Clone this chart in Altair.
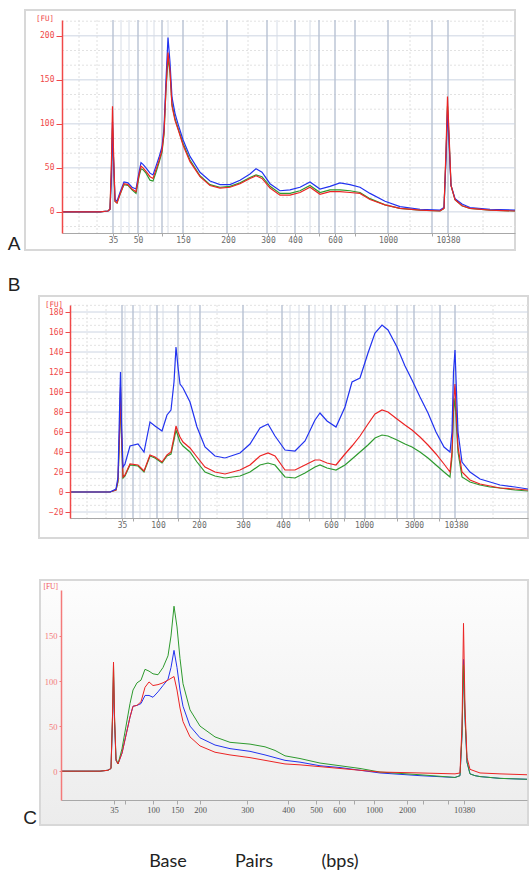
import altair as alt
import pandas as pd
import numpy as np

# ---------------- Panel A (migration position, a.u. from y-axis) ----------------
A_mig = [0, 38, 46, 48, 49.5, 50.5, 51.5, 53, 55, 58, 62, 66, 70, 74, 77, 79, 81, 84, 88, 91,
         94, 97, 100, 102, 104, 106, 108, 110, 113, 116, 121, 128, 138, 148, 158, 168, 178, 188, 194, 200,
         208, 218, 228, 238, 248, 258, 268, 278, 288, 298, 308, 323, 338, 358, 378, 382, 384, 385.5, 387, 389,
         393, 400, 408, 428, 453]
A_blue = [0, 0, 1, 3, 40, 102, 60, 14, 12, 22, 34, 33, 28, 26, 45, 56, 54, 50, 44, 42,
          52, 62, 74, 95, 150, 198, 170, 130, 112, 100, 82, 63, 45, 35, 31, 31, 36, 43, 49, 45,
          32, 24, 25, 28, 34, 26, 29, 33, 31, 28, 21, 12, 6, 3, 2, 5, 60, 116, 80, 30,
          15, 9, 5, 3, 2]
A_red = [0, 0, 1, 3, 60, 120, 70, 12, 10, 20, 32, 31, 26, 23, 42, 52, 50, 46, 40, 38,
         48, 58, 70, 90, 140, 181, 160, 120, 104, 94, 76, 57, 40, 30, 27, 28, 32, 38, 41, 38,
         27, 19, 19, 22, 28, 20, 23, 23, 22, 21, 14, 8, 4, 2, 1, 4, 70, 131, 90, 30,
         14, 7, 4, 2, 1]
A_green = [0, 0, 1, 3, 50, 95, 60, 12, 10, 20, 31, 30, 25, 21, 40, 49, 48, 44, 36, 35,
           45, 56, 68, 88, 140, 175, 158, 122, 106, 95, 78, 59, 41, 31, 28, 29, 33, 39, 42, 40,
           29, 21, 21, 24, 30, 22, 25, 25, 24, 22, 15, 8, 4, 2, 1, 4, 65, 120, 85, 30,
           14, 7, 4, 2, 1]
A_tick_pos = [51, 76, 100, 121, 166, 206, 233, 257, 273, 293, 326, 370, 386]
A_tick_lab = ['35', '50', '', '150', '200', '300', '400', '', '600', '', '1000', '', '10380']
A_yticks = [0, 50, 100, 150, 200]

# ---------------- Panel B ----------------
B_mig = [0, 40, 46, 48, 49.5, 50.5, 51.5, 53, 55, 60, 68, 74, 80, 85, 92, 97, 101, 104, 106, 108,
         110, 113, 120, 127, 135, 145, 155, 170, 180, 190, 198, 205, 215, 225, 235, 245, 250, 257, 266, 275,
         282, 290, 298, 305, 312, 318, 327, 335, 342, 350, 358, 366, 374, 380, 382, 383.5, 385, 386.5, 388, 392,
         400, 410, 420, 430, 445, 458]
B_blue = [0, 0, 3, 15, 80, 120, 70, 25, 28, 46, 48, 40, 70, 66, 61, 77, 82, 110, 145, 125,
          108, 104, 90, 65, 45, 36, 34, 39, 48, 64, 68, 56, 42, 41, 51, 72, 79, 71, 65, 85,
          110, 114, 139, 159, 167, 162, 145, 126, 112, 95, 79, 60, 45, 40, 60, 120, 142, 100, 60, 30,
          20, 13, 10, 7, 5, 3]
B_red = [0, 0, 2, 12, 60, 105, 60, 15, 17, 28, 27, 21, 37, 35, 30, 37, 40, 55, 66, 60,
         55, 50, 44, 35, 25, 20, 18, 22, 27, 36, 39, 36, 22, 22, 27, 32, 32, 29, 27, 38,
         46, 56, 68, 78, 82, 80, 73, 67, 62, 55, 47, 38, 28, 20, 40, 90, 108, 75, 45, 20,
         12, 8, 6, 4, 3, 2]
B_green = [0, 0, 2, 10, 55, 100, 55, 14, 16, 27, 26, 20, 36, 34, 29, 36, 38, 52, 62, 56,
           50, 46, 40, 30, 20, 16, 14, 16, 20, 27, 29, 27, 15, 14, 19, 25, 27, 24, 22, 27,
           33, 40, 47, 54, 57, 56, 52, 48, 45, 40, 34, 27, 20, 15, 35, 80, 94, 65, 40, 15,
           10, 7, 5, 4, 2, 1]
B_tick_pos = [52, 63, 88, 108, 129, 173, 213, 239, 261, 274, 294, 327, 344, 369, 386]
B_tick_lab = ['35', '', '100', '', '200', '300', '400', '', '600', '', '1000', '', '3000', '', '10380']
B_yticks = [-20, 0, 20, 40, 60, 80, 100, 120, 140, 160, 180]

# ---------------- Panel C ----------------
C_mig = [0, 39, 47, 50, 51.5, 52.5, 53.5, 55, 57, 61, 65, 69, 72, 76, 80, 84, 88, 92, 97, 102,
         107, 110, 113, 116, 119, 122, 129, 139, 154, 169, 189, 204, 214, 224, 239, 259, 279, 299, 319, 359,
         394, 399, 401, 402.5, 404, 406, 409, 414, 419, 439, 466]
C_green = [0, 0, 1, 3, 60, 118, 60, 14, 8, 25, 50, 75, 90, 98, 101, 113, 111, 108, 107, 115,
           128, 150, 183, 160, 125, 97, 68, 50, 38, 32, 30, 27, 23, 17, 14, 9, 6, 3, -1, -4,
           -7, -5, 40, 118, 60, 10, -3, -5, -6, -8, -9]
C_blue = [0, 0, 1, 3, 55, 105, 55, 12, 8, 20, 40, 60, 72, 73, 75, 84, 84, 82, 88, 95,
          102, 115, 134, 115, 90, 72, 50, 37, 29, 25, 22, 18, 15, 12, 10, 6, 4, 1, -2, -5,
          -7, -5, 40, 124, 60, 10, -3, -5, -6, -8, -9]
C_red = [0, 0, 1, 3, 62, 121, 62, 12, 8, 20, 40, 60, 72, 73, 77, 93, 99, 95, 96, 98,
         101, 103, 105, 90, 70, 55, 38, 28, 21, 18, 15, 12, 10, 8, 7, 5, 3, 1, -1, -2,
         -3, -2, 50, 164, 70, 15, 2, 0, -2, -3, -4]
C_tick_pos = [53, 64, 92, 116, 139, 186, 227, 255, 278, 293, 313, 346, 362, 387, 403]
C_tick_lab = ['35', '', '100', '150', '200', '300', '400', '500', '600', '', '1000', '2000', '', '', '10380']
C_yticks = [0, 50, 100, 150]

# grid line positions (style)
A_vmajor = [51, 76, 100, 121, 165, 205, 233, 257, 273, 293, 326, 370, 386]
A_vminor = [59, 67, 85, 92, 106, 215, 248]
A_vdash = [17, 35, 141, 186, 348, 421]
B_vmajor = [52, 63, 87, 108, 130, 173, 212, 239, 261, 275, 295, 327, 344, 370, 385]
B_vminor = [55, 70, 80, 93, 120, 220, 229, 245, 253, 268, 305, 315, 337, 362]
B_vdash = [17, 36, 147, 197, 423]

WIDTH = 528
MONO = "DejaVu Sans Mono"


def one(txt=""):
    return pd.DataFrame({"t": [txt]})


def lines_layer(mig, series, colors, xs, ys, xaxis, yaxis, sw):
    rows = []
    for name, vals in series.items():
        for m, v in zip(mig, vals):
            rows.append({"mig": m, "fu": v, "sample": name})
    df = pd.DataFrame(rows)
    return alt.Chart(df).mark_line(strokeWidth=sw, clip=True).encode(
        x=alt.X("mig:Q", scale=xs, axis=xaxis),
        y=alt.Y("fu:Q", scale=ys, axis=yaxis),
        color=alt.Color("sample:N", scale=alt.Scale(domain=list(series.keys()), range=colors), legend=None),
        detail="sample:N",
    )


def x_axis(tpos, tlab, color, font, size, tick, pad):
    expr = "[" + ",".join("'%s'" % l for l in tlab) + "][indexof([" + ",".join(str(p) for p in tpos) + "], datum.value)]"
    return alt.Axis(values=tpos, labelExpr=expr, grid=False, domainColor="#a8a8a8", domainWidth=1,
                    tickColor="#a8a8a8", tickSize=tick, labelColor=color, labelFont=font, labelFontSize=size,
                    labelPadding=pad, labelOverlap=False, labelFlush=False, title=None, zindex=1)


def y_axis(vals, axis_x, color, font, size, tick, pad, dw):
    return alt.Axis(values=vals, offset=-axis_x, grid=False, domainColor=color, domainWidth=dw,
                    tickColor=color, tickSize=tick, labelColor=color, labelFont=font, labelFontSize=size,
                    labelPadding=pad, labelOverlap=False, labelFlush=False, title=None, zindex=1)


def vrules(pos, xs, xaxis, color, width, H, dash=None):
    kw = dict(color=color, strokeWidth=width)
    if dash:
        kw["strokeDash"] = dash
    return alt.Chart(pd.DataFrame({"p": pos})).mark_rule(**kw).encode(
        x=alt.X("p:Q", scale=xs, axis=xaxis), y=alt.value(0), y2=alt.value(H))


def hrules(vals, ys, yaxis, color, width, x0, x1, dash=None):
    kw = dict(color=color, strokeWidth=width)
    if dash:
        kw["strokeDash"] = dash
    return alt.Chart(pd.DataFrame({"v": vals})).mark_rule(**kw).encode(
        y=alt.Y("v:Q", scale=ys, axis=yaxis), x=alt.value(x0), x2=alt.value(x1))


def text(txt, x, y, size, color, font, align="center", weight="normal"):
    return alt.Chart(one(txt)).mark_text(fontSize=size, color=color, font=font, align=align,
                                         baseline="middle", fontWeight=weight).encode(
        text="t:N", x=alt.value(x), y=alt.value(y))


def bounds_rect(top, bottom):
    return alt.Chart(one()).mark_rect(color="white", opacity=0).encode(
        x=alt.value(0), x2=alt.value(WIDTH), y=alt.value(top), y2=alt.value(bottom))


def frame_rect(x0, x1, y0, y1, fill=None):
    kw = dict(stroke="#d8d8d8", strokeWidth=2)
    if fill is None:
        kw["fillOpacity"] = 0
        kw["fill"] = "white"
    else:
        kw["fill"] = fill
    return alt.Chart(one()).mark_rect(**kw).encode(
        x=alt.value(x0), x2=alt.value(x1), y=alt.value(y0), y2=alt.value(y1))


RED = "#ec2424"
BLUE = "#2233f0"
GREEN = "#2e9a2e"
YLAB = "#f04848"

# ---------------- build A ----------------
HA = 213
axA, rA = 62, 515
xsA = alt.Scale(domain=[0, rA - axA], range=[axA, rA], nice=False, zero=False)
ysA = alt.Scale(domain=[-24, 218], nice=False, zero=False)
xaxA = x_axis(A_tick_pos, A_tick_lab, "#6a6a6a", MONO, 8, 3, 0)
yaxA = y_axis(A_yticks, axA, YLAB, MONO, 8, 6, 2, 1.5)
minorA = [v for v in np.arange(-50 / 3, 218, 50 / 3) if abs(v / 50 - round(v / 50)) > 0.01]
panelA = alt.layer(
    bounds_rect(-20, 242),
    frame_rect(25, 515, -10, 230),
    hrules(minorA, ysA, yaxA, "#e2e2e2", 1, axA, rA, [2, 2]),
    vrules(A_vdash, xsA, xaxA, "#e0e0e0", 1, HA, [2, 2]),
    hrules(A_yticks, ysA, yaxA, "#ccd4e2", 1, axA, rA),
    vrules(A_vminor, xsA, xaxA, "#d6dce6", 1, HA),
    vrules(A_vmajor, xsA, xaxA, "#b8c2d3", 1.4, HA),
    lines_layer(A_mig, {"Sample 3": A_green, "Sample 1": A_blue, "Sample 2": A_red},
                [GREEN, BLUE, RED], xsA, ysA, xaxA, yaxA, 1.2),
    text("[FU]", 54, -1, 7.5, YLAB, MONO, align="right"),
    text("A", 14, 224, 19, "#222222", "Liberation Sans"),
).properties(width=WIDTH, height=HA)

# ---------------- build B ----------------
HB = 213
axB, rB = 70, 528
xsB = alt.Scale(domain=[0, rB - axB], range=[axB, rB], nice=False, zero=False)
ysB = alt.Scale(domain=[-26, 187], nice=False, zero=False)
xaxB = x_axis(B_tick_pos, B_tick_lab, "#6a6a6a", MONO, 8, 3, 0)
yaxB = y_axis(B_yticks, axB, YLAB, MONO, 8, 5, 2, 1.5)
minorB = [v for v in np.arange(-80 / 3, 187, 20 / 3) if abs(v / 20 - round(v / 20)) > 0.01]
panelB = alt.layer(
    bounds_rect(-43, 247),
    frame_rect(39, 528, -9, 233),
    hrules(minorB, ysB, yaxB, "#e2e2e2", 1, axB, rB, [2, 2]),
    vrules(B_vdash, xsB, xaxB, "#e0e0e0", 1, HB, [2, 2]),
    hrules(B_yticks, ysB, yaxB, "#ccd4e2", 1, axB, rB),
    vrules(B_vminor, xsB, xaxB, "#d6dce6", 1, HB),
    vrules(B_vmajor, xsB, xaxB, "#b8c2d3", 1.4, HB),
    lines_layer(B_mig, {"Sample 3": B_green, "Sample 2": B_red, "Sample 1": B_blue},
                [GREEN, RED, BLUE], xsB, ysB, xaxB, yaxB, 1.2),
    text("[FU]", 63, 0, 7.5, YLAB, MONO, align="right"),
    text("B", 14, -20, 19, "#222222", "Liberation Sans"),
).properties(width=WIDTH, height=HB)

# ---------------- build C ----------------
HC = 210
axC, rC = 61, 527
xsC = alt.Scale(domain=[0, rC - axC], range=[axC, rC], nice=False, zero=False)
ysC = alt.Scale(domain=[-32, 201], nice=False, zero=False)
grad = alt.Gradient(gradient="linear",
                    stops=[alt.GradientStop(color="#fdfdfd", offset=0),
                           alt.GradientStop(color="#ececec", offset=1)],
                    x1=0, x2=0, y1=0, y2=1)
panelC = alt.layer(
    bounds_rect(-38, 283),
    frame_rect(40, 528, -10, 235, fill=grad),
    lines_layer(C_mig, {"Sample 1": C_blue, "Sample 3": C_green, "Sample 2": C_red},
                ["#5b5bff", "#3c9c3c", "#ff5656"], xsC, ysC,
                x_axis(C_tick_pos, C_tick_lab, "#555555", "Liberation Serif", 8.5, 4, 1),
                y_axis(C_yticks, axC, "#f47a7a", "Liberation Serif", 8.5, 2, 2, 1.5), 1.0),
    text("[FU]", 58, -3, 7.5, "#f05a5a", "Liberation Serif", align="right"),
    text("C", 30, 228, 19, "#222222", "Liberation Sans"),
    text("Base", 168, 272, 18, "#222222", "Lato"),
    text("Pairs", 254, 272, 18, "#222222", "Lato"),
    text("(bps)", 340, 272, 18, "#222222", "Lato"),
).properties(width=WIDTH, height=HC)

chart = alt.vconcat(panelA, panelB, panelC, spacing=0).properties(padding=0).configure_view(strokeWidth=0)

chart.save("out.html", embed_options={"renderer": "svg", "actions": False})
